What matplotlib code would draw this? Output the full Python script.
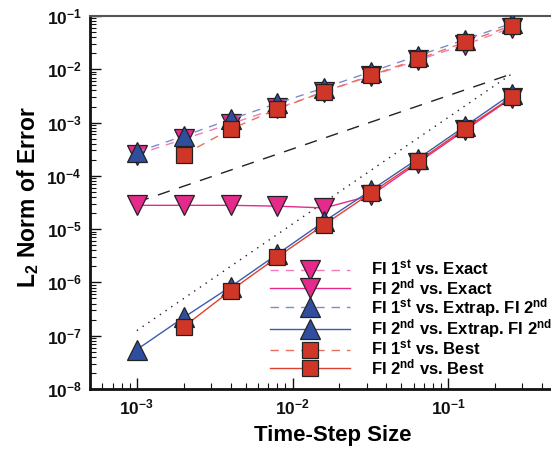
import matplotlib
matplotlib.use('Agg')
import matplotlib.pyplot as plt
from matplotlib.ticker import LogLocator, FixedLocator, FuncFormatter, NullFormatter
import numpy as np

plt.rcParams['font.family'] = ['Liberation Sans', 'DejaVu Sans']
plt.rcParams['font.weight'] = 'bold'
plt.rcParams['mathtext.fontset'] = 'custom'
plt.rcParams['mathtext.rm'] = 'Liberation Sans:bold'
plt.rcParams['mathtext.it'] = 'Liberation Sans:bold'
plt.rcParams['mathtext.bf'] = 'Liberation Sans:bold'
plt.rcParams['mathtext.sf'] = 'Liberation Sans:bold'
plt.rcParams['mathtext.default'] = 'rm'

# ---- data ----
dt = [1e-3, 2e-3, 4e-3, 8e-3, 1.6e-2, 3.2e-2, 6.4e-2, 0.128, 0.256]
fi1_exact = [2.5e-4, 4.9e-4, 9.5e-4, 1.85e-3, 3.8e-3, 7.5e-3, 1.48e-2, 2.9e-2, 6.0e-2]
fi2_exact = [2.8e-5, 2.8e-5, 2.8e-5, 2.7e-5, 2.5e-5, 4.3e-5, 1.77e-4, 7.2e-4, 2.9e-3]
fi1_extrap = [2.8e-4, 5.6e-4, 1.15e-3, 2.3e-3, 4.5e-3, 9.0e-3, 1.8e-2, 3.6e-2, 7.3e-2]
fi2_extrap = [5.5e-8, 2.2e-7, 8.3e-7, 3.4e-6, 1.4e-5, 5.4e-5, 2.1e-4, 8.5e-4, 3.45e-3]
dt_best = [2e-3, 4e-3, 8e-3, 1.6e-2, 3.2e-2, 6.4e-2, 0.128, 0.256]
fi1_best = [2.5e-4, 7.5e-4, 1.8e-3, 3.8e-3, 7.7e-3, 1.56e-2, 3.2e-2, 6.6e-2]
fi2_best = [1.47e-7, 7.0e-7, 3.0e-6, 1.22e-5, 4.8e-5, 1.88e-4, 7.7e-4, 3.0e-3]
ref_dt = [1e-3, 0.256]
ref_first = [3.2e-5, 8.2e-3]
ref_second = [1.25e-7, 8.2e-3]
x_ticks = [1e-3, 1e-2, 1e-1]
y_ticks = [1e-8, 1e-7, 1e-6, 1e-5, 1e-4, 1e-3, 1e-2, 1e-1]

labels = [r'FI 1$^{\rm st}$ vs. Exact', r'FI 2$^{\rm nd}$ vs. Exact',
          r'FI 1$^{\rm st}$ vs. Extrap. FI 2$^{\rm nd}$', r'FI 2$^{\rm nd}$ vs. Extrap. FI 2$^{\rm nd}$',
          r'FI 1$^{\rm st}$ vs. Best', r'FI 2$^{\rm nd}$ vs. Best']

pink = '#E52A8C'
blue = '#2F4F9E'
red = '#CF3628'
edge = '#222222'

fig = plt.figure(figsize=(5.51, 4.5), dpi=100)
ax = fig.add_axes([90/551, 1-389/450, (557-90)/551, (389-16)/450])

ax.plot(ref_dt, ref_first, color='#222222', lw=1.0, ls=(0, (9, 7)), zorder=1)
ax.plot(ref_dt, ref_second, color='#222222', lw=1.0, ls=(0, (1, 4)), zorder=1)

ms_tri = 14
ms_sq = 12
h = []
h += ax.plot(dt, fi1_exact, ls=(0, (6, 5)), lw=1.0, color='#F07DB8', marker='v', ms=ms_tri,
             mfc=pink, mec=edge, mew=0.9, zorder=3)
h += ax.plot(dt, fi2_exact, ls='-', lw=1.0, color=pink, marker='v', ms=ms_tri,
             mfc=pink, mec=edge, mew=0.9, zorder=3)
h += ax.plot(dt, fi1_extrap, ls=(0, (6, 5)), lw=1.0, color='#7A8ECC', marker='^', ms=ms_tri,
             mfc=blue, mec=edge, mew=0.9, zorder=4)
h += ax.plot(dt, fi2_extrap, ls='-', lw=1.0, color='#3A5BB0', marker='^', ms=ms_tri,
             mfc=blue, mec=edge, mew=0.9, zorder=4)
h += ax.plot(dt_best, fi1_best, ls=(0, (6, 5)), lw=1.0, color='#E8705F', marker='s', ms=ms_sq,
             mfc=red, mec=edge, mew=0.9, zorder=5)
h += ax.plot(dt_best, fi2_best, ls='-', lw=1.0, color='#E0402F', marker='s', ms=ms_sq,
             mfc=red, mec=edge, mew=0.9, zorder=5)

ax.set_xscale('log')
ax.set_yscale('log')
ax.set_xlim(5e-4, 0.5)
ax.set_ylim(1e-8, 1e-1)

def fmt(v, pos):
    e = int(round(np.log10(v)))
    return r'$10^{%d}$' % e

ax.xaxis.set_major_locator(FixedLocator(x_ticks))
ax.yaxis.set_major_locator(FixedLocator(y_ticks))
ax.xaxis.set_minor_locator(LogLocator(base=10, subs=np.arange(2, 10), numticks=20))
ax.yaxis.set_minor_locator(LogLocator(base=10, subs=np.arange(2, 10), numticks=20))
ax.xaxis.set_major_formatter(FuncFormatter(fmt))
ax.yaxis.set_major_formatter(FuncFormatter(fmt))
ax.xaxis.set_minor_formatter(NullFormatter())
ax.yaxis.set_minor_formatter(NullFormatter())

ax.tick_params(which='both', direction='in', top=False, right=False, colors='#111111')
ax.tick_params(which='major', length=8, width=1.0, labelsize=12.5, pad=6)
ax.tick_params(which='minor', length=4, width=0.8)

for s in ['left', 'bottom']:
    ax.spines[s].set_linewidth(2.0)
    ax.spines[s].set_color('#111111')
ax.spines['top'].set_linewidth(1.5)
ax.spines['top'].set_color('#555555')
ax.spines['right'].set_visible(False)

ax.set_xlabel('Time-Step Size', fontsize=16, fontweight='bold')
ax.set_ylabel(r'L$_{2}$ Norm of Error', fontsize=16.5, fontweight='bold')
ax.xaxis.set_label_coords((332.5-90)/467, -(435-389)/373, transform=ax.transAxes)
ax.yaxis.set_label_coords(-(90-28)/467, (389-197)/373, transform=ax.transAxes)
ax.xaxis.label.set_va('center')
ax.yaxis.label.set_va('center')

leg = ax.legend(h, labels, loc='upper left', bbox_to_anchor=(270/551, 1-259/450),
                bbox_transform=fig.transFigure, frameon=False, fontsize=12,
                handlelength=4.8, handletextpad=1.25, labelspacing=-0.08,
                borderpad=0, borderaxespad=0, numpoints=1)

fig.savefig('out.png', dpi=100)
